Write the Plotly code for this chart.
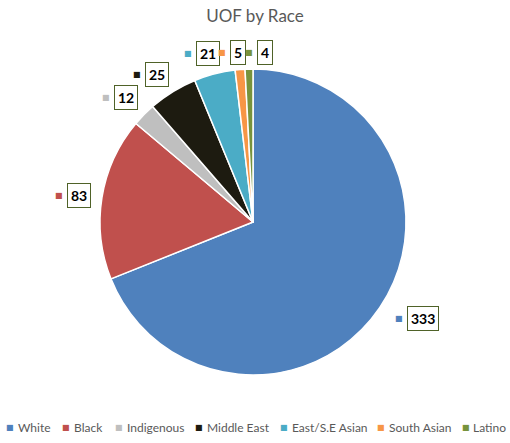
import math
import plotly.graph_objects as go

# Use-of-force incidents by race
races = ["White", "Black", "Indigenous", "Middle East", "East/S.E Asian", "South Asian", "Latino"]
counts = [333, 83, 12, 25, 21, 5, 4]
colors = ["#4F81BD", "#C0504D", "#BFBFBF", "#1D1B10", "#4BACC6", "#F79646", "#77933C"]

W, H = 510, 443
CX, CY, R = 253, 222, 153          # pie centre and radius in pixels

# data-label placement: (left edge of box, vertical centre) relative to the slice's outer midpoint
label_offsets = [(27, 11), (-35, -2), (-30, -17), (-28, -17), (-19, -20), (-10, -17), (8, -17)]

# custom legend layout (pixel x of key square and of text start)
legend_sq_x = [10, 66, 119, 199, 284, 381, 466]
legend_tx_x = [16, 72, 125, 205, 290, 387, 471]
LEGEND_Y = 427

FONT = "Lato"
GREY = "#595959"


def px(x):
    return x / W


def py(y):
    return 1 - y / H


fig = go.Figure(
    go.Pie(
        labels=races,
        values=counts,
        sort=False,
        direction="clockwise",
        rotation=0,
        textinfo="none",
        marker=dict(colors=colors, line=dict(color="white", width=1.5)),
        domain=dict(x=[px(CX - R), px(CX + R)], y=[py(CY + R), py(CY - R)]),
        showlegend=False,
    )
)

annotations = []

# data labels: coloured key square + boxed value
total = sum(counts)
cum = 0
for name, val, col, (dx, dy) in zip(races, counts, colors, label_offsets):
    mid = (cum + val / 2) / total * 2 * math.pi
    cum += val
    ax = CX + R * math.sin(mid)
    ay = CY - R * math.cos(mid)
    bx = ax + dx
    by = ay + dy
    annotations.append(dict(
        x=px(bx), y=py(by), xref="paper", yref="paper",
        text=f"<b>{val}</b>", showarrow=False,
        xanchor="left", yanchor="middle",
        font=dict(family=FONT, size=14, color="black"),
        bordercolor="#4F6228", borderwidth=1, borderpad=3, bgcolor="white",
    ))
    annotations.append(dict(
        x=px(bx - 8), y=py(by), xref="paper", yref="paper",
        text="■", showarrow=False, xanchor="center", yanchor="middle",
        font=dict(family="DejaVu Sans", size=8, color=col),
    ))

# legend along the bottom
for name, col, sx, tx in zip(races, colors, legend_sq_x, legend_tx_x):
    annotations.append(dict(
        x=px(sx), y=py(LEGEND_Y), xref="paper", yref="paper",
        text="■", showarrow=False, xanchor="center", yanchor="middle",
        font=dict(family="DejaVu Sans", size=8, color=col),
    ))
    annotations.append(dict(
        x=px(tx), y=py(LEGEND_Y), xref="paper", yref="paper",
        text=name, showarrow=False, xanchor="left", yanchor="middle",
        font=dict(family=FONT, size=12, color=GREY),
    ))

fig.update_layout(
    width=W, height=H,
    margin=dict(l=0, r=0, t=0, b=0),
    paper_bgcolor="white", plot_bgcolor="white",
    title=dict(text="UOF by Race", x=0.5, xanchor="center", y=py(16), yanchor="middle",
               font=dict(family=FONT, size=17, color=GREY)),
    annotations=annotations,
)

fig.write_html("out.html")
